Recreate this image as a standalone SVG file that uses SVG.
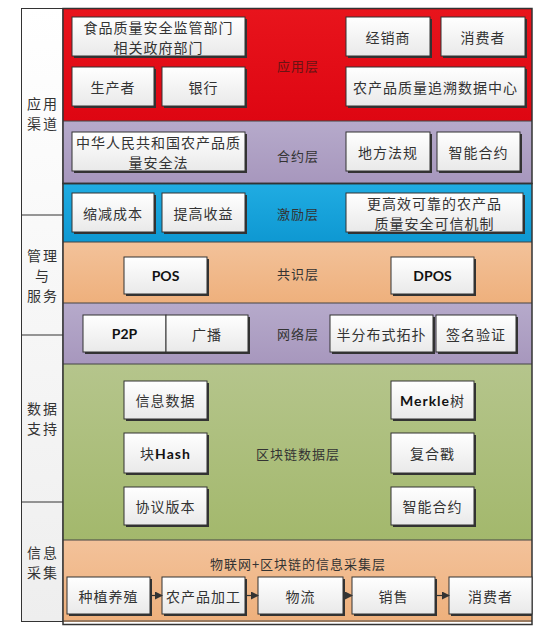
<svg xmlns="http://www.w3.org/2000/svg" width="555" height="636" viewBox="0 0 555 636">
<defs>
<linearGradient id="gNode" x1="0" y1="0" x2="0" y2="1"><stop offset="0" stop-color="#ffffff"/><stop offset="1" stop-color="#e9e9e9"/></linearGradient>
<linearGradient id="gLeft" x1="0" y1="0" x2="0" y2="1"><stop offset="0" stop-color="#ffffff"/><stop offset="1" stop-color="#eeeeee"/></linearGradient>
<linearGradient id="gRed" x1="0" y1="0" x2="0" y2="1"><stop offset="0" stop-color="#e8141c"/><stop offset="1" stop-color="#de0612"/></linearGradient>
<linearGradient id="gPur" x1="0" y1="0" x2="0" y2="1"><stop offset="0" stop-color="#b6aacb"/><stop offset="1" stop-color="#a797bd"/></linearGradient>
<linearGradient id="gBlue" x1="0" y1="0" x2="0" y2="1"><stop offset="0" stop-color="#20ace2"/><stop offset="1" stop-color="#0e98d2"/></linearGradient>
<linearGradient id="gOra" x1="0" y1="0" x2="0" y2="1"><stop offset="0" stop-color="#f3c29a"/><stop offset="1" stop-color="#eeb07c"/></linearGradient>
<linearGradient id="gGrn" x1="0" y1="0" x2="0" y2="1"><stop offset="0" stop-color="#b5c58c"/><stop offset="1" stop-color="#a3b86c"/></linearGradient>
<marker id="arr" markerWidth="8" markerHeight="8" refX="7" refY="4" orient="auto" markerUnits="userSpaceOnUse"><path d="M0,0 L8,4 L0,8 z" fill="#333"/></marker>
</defs>
<style>
.node rect.b{fill:url(#gNode);stroke:#333;stroke-width:1}
.node rect.s{fill:#333}
text{font-family:"Noto Sans CJK SC","Liberation Sans",sans-serif;fill:#333;text-anchor:middle;dominant-baseline:central}
.t{font-size:14px;letter-spacing:1px}
.en{font-family:Lato,"Open Sans","Liberation Sans","Noto Sans CJK SC",sans-serif;font-weight:bold;font-size:14px;fill:#111}
.lay{font-size:13px;letter-spacing:1px}
.side{font-size:14px;letter-spacing:2px}
.frame{fill:none;stroke:#333;stroke-width:1.5}
</style>
<g id="left-column">
<rect x="21.5" y="8.5" width="41.5" height="613" fill="url(#gLeft)" stroke="#333" stroke-width="1"/>
<line x1="21.5" y1="215" x2="63" y2="215" stroke="#333"/>
<line x1="21.5" y1="335" x2="63" y2="335" stroke="#333"/>
<line x1="21.5" y1="502" x2="63" y2="502" stroke="#333"/>
<text class="side" x="43" y="103">应用</text><text class="side" x="43" y="123">渠道</text>
<text class="side" x="43" y="255">管理</text><text class="side" x="43" y="275">与</text><text class="side" x="43" y="295">服务</text>
<text class="side" x="43" y="408">数据</text><text class="side" x="43" y="428">支持</text>
<text class="side" x="43" y="552">信息</text><text class="side" x="43" y="572">采集</text>
</g>
<g id="layers">
<rect x="63" y="8.5" width="469" height="112.5" fill="url(#gRed)"/>
<rect x="63" y="121" width="469" height="62" fill="url(#gPur)"/>
<rect x="63" y="184" width="469" height="58" fill="url(#gBlue)"/>
<rect x="63" y="242" width="469" height="61" fill="url(#gOra)"/>
<rect x="63" y="303" width="469" height="61" fill="url(#gPur)"/>
<rect x="63" y="364" width="469" height="176" fill="url(#gGrn)"/>
<rect x="63" y="540" width="469" height="82" fill="url(#gOra)"/>
<g stroke="#444" stroke-width="1">
<line x1="63" y1="121" x2="532" y2="121"/>
<line x1="63" y1="242" x2="532" y2="242"/>
<line x1="63" y1="303" x2="532" y2="303"/>
<line x1="63" y1="364" x2="532" y2="364"/>
<line x1="63" y1="540" x2="532" y2="540"/>
<line x1="63" y1="621" x2="532" y2="621"/>
</g>
<rect class="frame" x="63" y="8.5" width="469" height="175"/>
<rect class="frame" x="63" y="183.5" width="469" height="441" stroke-width="2"/>
<text class="lay" x="298" y="65" style="fill:#6a1414">应用层</text>
<text class="lay" x="298" y="155">合约层</text>
<text class="lay" x="298" y="213">激励层</text>
<text class="lay" x="298" y="273">共识层</text>
<text class="lay" x="298" y="333">网络层</text>
<text class="lay" x="298" y="453">区块链数据层</text>
<text class="lay" x="298" y="563">物联网+区块链的信息采集层</text>
</g>
<g id="n-food" class="node"><rect class="s" x="74" y="19" width="173" height="39"/><rect class="b" x="72" y="17" width="173" height="39"/><text class="t" x="158.5" y="26.5">食品质量安全监管部门</text><text class="t" x="158.5" y="46.5">相关政府部门</text></g>
<g id="n-producer" class="node"><rect class="s" x="74" y="69" width="82" height="39"/><rect class="b" x="72" y="67" width="82" height="39"/><text class="t" x="113" y="86.5">生产者</text></g>
<g id="n-bank" class="node"><rect class="s" x="164" y="69" width="83" height="39"/><rect class="b" x="162" y="67" width="83" height="39"/><text class="t" x="203.5" y="86.5">银行</text></g>
<g id="n-dealer" class="node"><rect class="s" x="348" y="19" width="84" height="39"/><rect class="b" x="346" y="17" width="84" height="39"/><text class="t" x="388" y="36.5">经销商</text></g>
<g id="n-consumer1" class="node"><rect class="s" x="443" y="19" width="84" height="39"/><rect class="b" x="441" y="17" width="84" height="39"/><text class="t" x="483" y="36.5">消费者</text></g>
<g id="n-datacenter" class="node"><rect class="s" x="348" y="69" width="179" height="39"/><rect class="b" x="346" y="67" width="179" height="39"/><text class="t" x="435.5" y="86.5">农产品质量追溯数据中心</text></g>
<g id="n-law" class="node"><rect class="s" x="74" y="134" width="173" height="39"/><rect class="b" x="72" y="132" width="173" height="39"/><text class="t" x="158.5" y="141.5">中华人民共和国农产品质</text><text class="t" x="158.5" y="161.5">量安全法</text></g>
<g id="n-local" class="node"><rect class="s" x="348" y="134" width="84" height="39"/><rect class="b" x="346" y="132" width="84" height="39"/><text class="t" x="388" y="151.5">地方法规</text></g>
<g id="n-smart1" class="node"><rect class="s" x="439" y="134" width="83" height="39"/><rect class="b" x="437" y="132" width="83" height="39"/><text class="t" x="478.5" y="151.5">智能合约</text></g>
<g id="n-cost" class="node"><rect class="s" x="74" y="195" width="82" height="39"/><rect class="b" x="72" y="193" width="82" height="39"/><text class="t" x="113" y="212.5">缩减成本</text></g>
<g id="n-income" class="node"><rect class="s" x="164" y="195" width="83" height="39"/><rect class="b" x="162" y="193" width="83" height="39"/><text class="t" x="203.5" y="212.5">提高收益</text></g>
<g id="n-trust" class="node"><rect class="s" x="348" y="195" width="177" height="39"/><rect class="b" x="346" y="193" width="177" height="39"/><text class="t" x="434.5" y="202.5">更高效可靠的农产品</text><text class="t" x="434.5" y="222.5">质量安全可信机制</text></g>
<g id="n-pos" class="node"><rect class="s" x="126" y="259" width="83" height="37"/><rect class="b" x="124" y="257" width="83" height="37"/><text class="en" x="165.5" y="275.5">POS</text></g>
<g id="n-dpos" class="node"><rect class="s" x="393" y="259" width="83" height="37"/><rect class="b" x="391" y="257" width="83" height="37"/><text class="en" x="432.5" y="275.5">DPOS</text></g>
<g id="n-p2p" class="node"><rect class="s" x="85" y="317" width="83" height="37"/><rect class="b" x="83" y="315" width="83" height="37"/><text class="en" x="124.5" y="333.5">P2P</text></g>
<g id="n-broadcast" class="node"><rect class="s" x="168" y="317" width="82" height="37"/><rect class="b" x="166" y="315" width="82" height="37"/><text class="t" x="207" y="333.5">广播</text></g>
<g id="n-topo" class="node"><rect class="s" x="332" y="317" width="103" height="37"/><rect class="b" x="330" y="315" width="103" height="37"/><text class="t" x="381.5" y="333.5">半分布式拓扑</text></g>
<g id="n-sign" class="node"><rect class="s" x="438" y="317" width="80" height="37"/><rect class="b" x="436" y="315" width="80" height="37"/><text class="t" x="476" y="333.5">签名验证</text></g>
<g id="n-info" class="node"><rect class="s" x="126" y="383" width="83" height="38"/><rect class="b" x="124" y="381" width="83" height="38"/><text class="t" x="165.5" y="400">信息数据</text></g>
<g id="n-hash" class="node"><rect class="s" x="126" y="435" width="83" height="40"/><rect class="b" x="124" y="433" width="83" height="40"/><text class="t" x="165.5" y="453">块<tspan class="en">Hash</tspan></text></g>
<g id="n-version" class="node"><rect class="s" x="126" y="489" width="83" height="38"/><rect class="b" x="124" y="487" width="83" height="38"/><text class="t" x="165.5" y="506">协议版本</text></g>
<g id="n-merkle" class="node"><rect class="s" x="393" y="383" width="83" height="38"/><rect class="b" x="391" y="381" width="83" height="38"/><text class="t" x="432.5" y="400"><tspan class="en">Merkle</tspan>树</text></g>
<g id="n-stamp" class="node"><rect class="s" x="393" y="435" width="83" height="40"/><rect class="b" x="391" y="433" width="83" height="40"/><text class="t" x="432.5" y="453">复合戳</text></g>
<g id="n-smart2" class="node"><rect class="s" x="393" y="489" width="83" height="38"/><rect class="b" x="391" y="487" width="83" height="38"/><text class="t" x="432.5" y="506">智能合约</text></g>
<g id="n-plant" class="node"><rect class="s" x="69" y="579" width="83" height="37"/><rect class="b" x="67" y="577" width="83" height="37"/><text class="t" x="108.5" y="595.5">种植养殖</text></g>
<g id="n-process" class="node"><rect class="s" x="164" y="579" width="83" height="37"/><rect class="b" x="162" y="577" width="83" height="37"/><text class="t" x="203.5" y="595.5">农产品加工</text></g>
<g id="n-logistics" class="node"><rect class="s" x="260" y="579" width="85" height="37"/><rect class="b" x="258" y="577" width="85" height="37"/><text class="t" x="300.5" y="595.5">物流</text></g>
<g id="n-sale" class="node"><rect class="s" x="354" y="579" width="83" height="37"/><rect class="b" x="352" y="577" width="83" height="37"/><text class="t" x="393.5" y="595.5">销售</text></g>
<g id="n-consumer2" class="node"><rect class="s" x="451" y="579" width="81" height="37"/><rect class="b" x="449" y="577" width="83" height="37"/><text class="t" x="490.5" y="595.5">消费者</text></g>
<g id="connectors" stroke="#333" stroke-width="1.2" marker-end="url(#arr)">
<line x1="150" y1="595.5" x2="162" y2="595.5"/>
<line x1="245" y1="595.5" x2="258" y2="595.5"/>
<line x1="343" y1="595.5" x2="352" y2="595.5"/>
<line x1="435" y1="595.5" x2="449" y2="595.5"/>
</g>
</svg>
